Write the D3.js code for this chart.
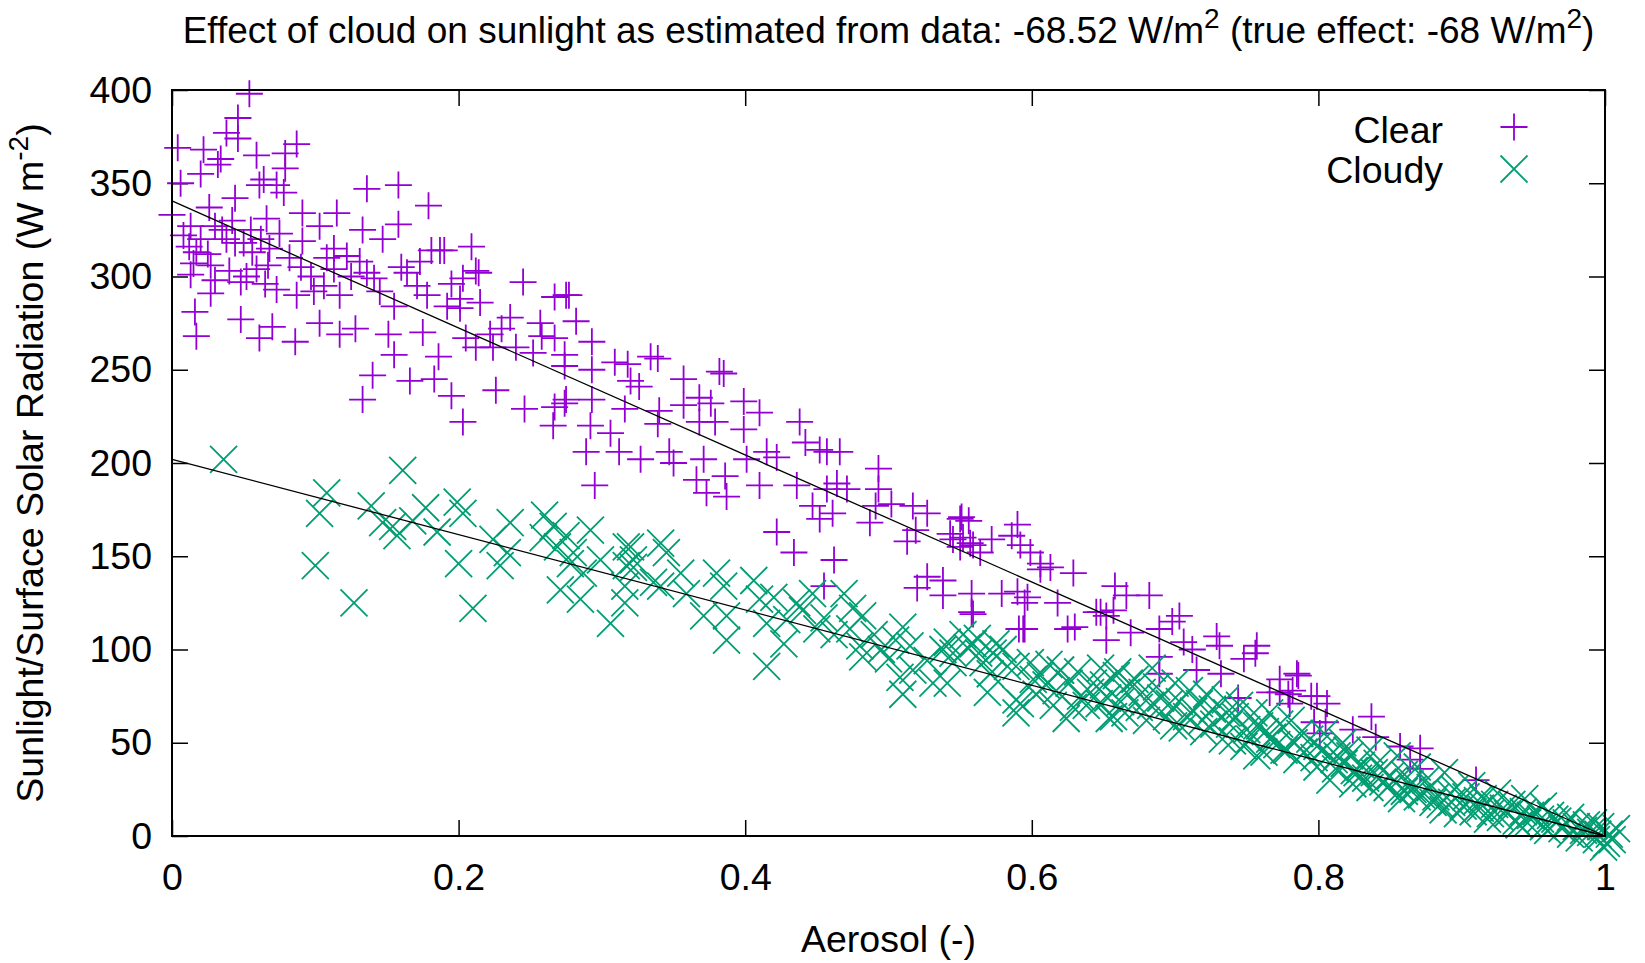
<!DOCTYPE html>
<html>
<head>
<meta charset="utf-8">
<script src="https://cdn.jsdelivr.net/npm/d3@7"></script>
<style>
  body { margin: 0; background: #fff; }
  text { font-family: "Liberation Sans", Arial, sans-serif; fill: #000; }
</style>
</head>
<body>
<svg id="chart" width="1645" height="963"></svg>
<script>
// values: [aerosol, radiation]
const xTicks = [0, 0.2, 0.4, 0.6, 0.8, 1];
const yTicks = [0, 50, 100, 150, 200, 250, 300, 350, 400];

const clear = [
  [0.054,398],[0.046,385],[0.038,377],[0.046,374],[0.004,369],[0.022,368],[0.059,365],[0.087,371],[0.079,366],[0.032,360],
  [0.034,363],[0.079,358],[0.006,350],[0.020,355],[0.061,349],[0.073,349],[0.064,352],[0.044,342],[0.026,337],[0.078,345],
  [0.091,334],[0.115,334],[0.000,333],[0.013,327],[0.030,327],[0.066,331],[0.103,327],[0.133,325],[0.136,347],[0.158,349],
  [0.179,338],[0.158,328],[0.147,320],[0.038,320],[0.044,318],[0.017,313],[0.056,313],[0.113,315],[0.091,319],[0.122,311],
  [0.131,308],[0.015,307],[0.027,306],[0.059,304],[0.067,306],[0.136,302],[0.141,299],[0.113,304],[0.013,301],[0.164,302],
  [0.173,308],[0.181,314],[0.190,314],[0.209,316],[0.203,299],[0.214,302],[0.245,297],[0.171,295],[0.048,297],[0.027,291],
  [0.073,293],[0.087,290],[0.099,292],[0.106,295],[0.117,290],[0.155,284],[0.192,284],[0.201,288],[0.201,283],[0.267,289],
  [0.275,290],[0.016,281],[0.048,277],[0.070,273],[0.086,265],[0.061,267],[0.017,268],[0.103,275],[0.117,269],[0.128,272],
  [0.151,269],[0.155,258],[0.186,257],[0.205,267],[0.222,269],[0.236,278],[0.257,275],[0.267,267],[0.140,247],[0.133,234],
  [0.166,244],[0.183,245],[0.195,236],[0.226,239],[0.246,229],[0.267,230],[0.275,234],[0.203,222],[0.224,262],[0.252,259],
  [0.266,220],[0.212,303],[0.187,314],
  [0.008,322],[0.012,316],[0.020,320],[0.025,312],[0.035,325],[0.042,330],[0.050,318],[0.055,325],[0.062,320],[0.068,315],
  [0.075,323],[0.082,310],[0.090,305],[0.097,300],[0.065,296],[0.052,300],[0.040,303],[0.030,298],[0.108,310],[0.125,300],
  [0.145,292],[0.160,305],[0.178,290],[0.195,296],[0.215,286],[0.230,272],[0.240,262],[0.258,268],[0.212,262],[0.175,270],
  [0.277,290],[0.282,276],[0.293,265],[0.274,258],[0.274,252],[0.293,250],[0.309,254],[0.318,253],[0.334,257],[0.339,256],
  [0.320,244],[0.326,241],[0.274,232],[0.293,234],[0.292,220],[0.306,216],[0.316,229],[0.289,206],[0.312,206],[0.327,202],
  [0.295,188],[0.340,228],[0.339,221],[0.357,245],[0.357,231],[0.368,235],[0.376,232],[0.382,249],[0.385,248],[0.379,222],
  [0.368,222],[0.347,206],[0.350,200],[0.371,202],[0.366,191],[0.373,184],[0.387,182],[0.386,193],[0.399,233],[0.410,227],
  [0.399,218],[0.401,202],[0.410,188],[0.415,206],[0.422,203],[0.438,222],[0.442,211],[0.452,207],[0.457,206],[0.466,206],
  [0.436,188],[0.447,177],[0.457,186],[0.464,189],[0.471,186],[0.461,173],[0.493,197],[0.493,186],[0.491,177],[0.502,178],
  [0.517,177],[0.527,173],[0.519,164],[0.487,168],[0.422,163],[0.434,152],[0.462,148],[0.452,170],[0.550,170],[0.552,160],
  [0.543,162],[0.557,157],[0.513,158],[0.527,139],
  [0.551,171],[0.556,169],[0.545,159],[0.550,155],[0.559,156],[0.564,152],[0.572,159],[0.590,167],[0.586,161],[0.592,156],
  [0.599,152],[0.606,146],[0.606,143],[0.613,144],[0.629,141],[0.538,137],[0.558,130],[0.579,130],[0.590,131],[0.595,125],
  [0.595,111],[0.591,111],[0.559,119],[0.618,125],[0.625,111],[0.658,134],[0.666,129],[0.682,129],[0.645,120],[0.652,118],
  [0.657,121],[0.669,109],[0.689,111],[0.698,115],[0.703,118],[0.689,96],[0.689,87],[0.706,104],[0.712,100],[0.715,89],
  [0.732,87],[0.731,102],[0.729,107],[0.757,102],[0.748,95],[0.744,74],[0.773,77],[0.780,71],[0.782,78],[0.786,86],
  [0.799,75],[0.806,71],[0.797,61],[0.801,55],[0.824,57],
  [0.756,98],[0.773,84],[0.785,87],[0.779,76],[0.766,77],[0.795,75],[0.805,61],[0.837,64],[0.840,53],[0.857,48],
  [0.871,47],[0.864,41],[0.871,36],[0.910,30],
  [0.455,134],[0.520,133],[0.538,129],[0.558,120],[0.594,111],[0.597,128],[0.630,112],[0.648,120],[0.652,105]
];

const cloudy = [
  [0.036,202],[0.161,196],[0.108,184],[0.103,173],[0.100,145],[0.127,125],[0.139,177],[0.147,168],[0.154,166],[0.157,161],
  [0.168,169],[0.177,176],[0.185,163],[0.199,179],[0.203,173],[0.200,146],[0.210,122],[0.236,168],[0.229,145],[0.234,152],
  [0.224,159],[0.260,172],[0.259,160],[0.269,155],[0.280,152],[0.271,132],[0.285,127],[0.278,146],[0.292,164],[0.299,148],
  [0.306,114],[0.317,155],[0.316,134],[0.322,144],[0.336,136],[0.341,157],[0.287,141],[0.266,166],[0.275,161],
  [0.320,155],[0.317,145],[0.322,148],[0.316,125],[0.345,152],[0.355,141],[0.341,134],[0.359,130],[0.380,141],[0.385,134],
  [0.371,118],[0.387,105],[0.387,118],[0.406,137],[0.410,127],[0.415,114],[0.415,91],[0.427,103],[0.429,116],[0.440,121],
  [0.447,130],[0.450,111],[0.469,130],[0.473,111],[0.482,118],[0.482,96],[0.480,102],[0.495,100],[0.510,112],[0.515,102],
  [0.508,85],[0.510,76],[0.517,89],[0.527,94],[0.531,82],[0.545,98],[0.555,101],[0.563,98],[0.571,87],[0.575,103],
  [0.589,91],[0.592,71],[0.601,84],[0.610,81],[0.620,89],[0.624,63],[0.634,75],[0.650,81],[0.654,63],[0.659,86],
  [0.420,128],[0.436,125],[0.455,117],[0.462,108],[0.475,122],[0.490,108],[0.500,95],[0.505,105],
  [0.541,104],[0.552,108],[0.562,106],[0.580,100],[0.583,91],
  [0.538,100],[0.545,93],[0.559,103],[0.566,93],[0.573,98],[0.541,82],[0.569,77],[0.589,73],[0.589,66],[0.599,93],
  [0.606,86],[0.620,89],[0.617,78],[0.629,69],[0.643,82],[0.647,71],[0.657,64],[0.666,77],[0.675,69],[0.687,80],
  [0.696,71],[0.699,59],[0.708,64],[0.717,71],[0.727,60],[0.736,66],[0.740,51],[0.750,57],[0.759,59],[0.768,53],
  [0.778,46],[0.787,55],[0.799,48],[0.811,41],[0.820,46],[0.825,35],
  [0.660,88],[0.672,84],[0.684,90],[0.700,82],[0.710,78],[0.722,76],[0.735,73],[0.745,70],[0.755,66],
  [0.665,66],[0.680,62],[0.705,58],[0.720,56],[0.733,52],[0.748,48],[0.762,45],
  [0.757,59],[0.757,43],[0.766,52],[0.776,46],[0.785,41],[0.794,52],[0.799,37],[0.808,30],[0.813,43],[0.822,43],
  [0.827,34],[0.836,26],[0.841,39],[0.850,32],[0.855,23],[0.864,28],[0.869,21],[0.878,26],[0.885,17],[0.892,23],
  [0.901,16],[0.911,19],[0.920,12],[0.929,15],[0.938,8],[0.948,11],[0.957,5],[0.967,8],[0.976,1],[0.985,3],
  [0.994,-2],[1.003,1],[1.001,-4],[0.992,7],[0.976,10],[0.957,16],[0.944,20],[0.925,23],[0.907,27],[0.888,34],
  [0.869,37],[0.855,43],[0.836,46],[0.817,50],[0.804,55],[0.781,62],[0.766,66],
  [0.830,38],[0.845,35],[0.860,33],[0.875,30],[0.895,25],[0.915,20],[0.935,17],[0.952,13],[0.965,9],[0.980,5],
  [0.990,2],[0.997,5],[0.960,3],[0.940,6],[0.918,9],[0.897,12],[0.880,18],[0.860,24],[0.845,29],[0.828,31],
  [0.603,76],[0.612,92],[0.615,70],[0.626,82],[0.632,88],[0.638,70],[0.641,77],[0.648,90],[0.653,74],[0.662,72],
  [0.668,82],[0.677,77],[0.683,70],[0.690,74],[0.694,64],[0.703,72],[0.713,67],[0.719,62],[0.726,68],[0.738,60],
  [0.742,64],[0.752,52],[0.763,56],[0.771,49],[0.773,60],[0.783,50],[0.790,45],[0.797,42],[0.803,46],[0.812,36],
  [0.818,39],[0.824,28],[0.833,31],[0.839,34],[0.848,26],[0.853,30],[0.858,20],[0.866,25],[0.872,22],[0.882,21],
  [0.887,14],[0.893,18],[0.903,21],[0.908,13],[0.913,15],[0.923,17],[0.927,10],[0.932,12],[0.943,13],[0.946,7],
  [0.955,9],[0.962,11],[0.970,4],[0.973,7],[0.982,-1],[0.987,6],[0.995,1],[1.005,-2],[1.008,4],[0.999,-6]
];

// fitted lines
const fitX = [0, 1];
const clearFit = [340.5, 0];
const cloudyFit = [202, 0];

const svg = d3.select("#chart");
const margin = { left: 172, right: 40, top: 90, bottom: 127 };
const width = 1645 - margin.left - margin.right;
const height = 963 - margin.top - margin.bottom;
const fontSize = 37.5;
const supSize = 28;

const x = d3.scaleLinear().domain([0, 1]).range([0, width]);
const y = d3.scaleLinear().domain([0, 400]).range([height, 0]);

const g = svg.append("g").attr("transform", "translate(" + margin.left + "," + margin.top + ")");

function styleAxis(sel) {
  sel.select(".domain").remove();
  sel.selectAll(".tick line").attr("stroke", "#000").attr("stroke-width", 1.5);
  sel.selectAll(".tick text").style("font-size", fontSize + "px").attr("fill", "#000");
}

g.append("g")
  .attr("transform", "translate(0," + height + ")")
  .call(d3.axisBottom(x).tickValues(xTicks).tickFormat(d3.format("")).tickSize(-16).tickPadding(27))
  .call(styleAxis);
g.append("g")
  .call(d3.axisLeft(y).tickValues(yTicks).tickSize(-16).tickPadding(20))
  .call(styleAxis);
g.append("g")
  .call(d3.axisTop(x).tickValues(xTicks).tickFormat("").tickSize(-16))
  .call(styleAxis);
g.append("g")
  .attr("transform", "translate(" + width + ",0)")
  .call(d3.axisRight(y).tickValues(yTicks).tickFormat("").tickSize(-16))
  .call(styleAxis);

const plusPath = "M-13.5,0H13.5M0,-13.5V13.5";
const crossPath = "M-13.5,-13.5L13.5,13.5M-13.5,13.5L13.5,-13.5";
const purple = "#9400d3";
const green = "#009e73";

g.selectAll(".clear")
  .data(clear)
  .enter()
  .append("path")
  .attr("class", "clear")
  .attr("d", plusPath)
  .attr("transform", d => "translate(" + x(d[0]) + "," + y(d[1]) + ")")
  .attr("stroke", purple)
  .attr("stroke-width", 1.8)
  .attr("fill", "none");

g.selectAll(".cloudy")
  .data(cloudy)
  .enter()
  .append("path")
  .attr("class", "cloudy")
  .attr("d", crossPath)
  .attr("transform", d => "translate(" + x(d[0]) + "," + y(d[1]) + ")")
  .attr("stroke", green)
  .attr("stroke-width", 1.8)
  .attr("fill", "none");

const line = d3.line().x(d => x(d[0])).y(d => y(d[1]));
[clearFit, cloudyFit].forEach(function (fit) {
  g.append("path")
    .datum(fitX.map((v, i) => [v, fit[i]]))
    .attr("d", line)
    .attr("fill", "none")
    .attr("stroke", "#000")
    .attr("stroke-width", 1.3);
});

// border
g.append("rect")
  .attr("width", width)
  .attr("height", height)
  .attr("fill", "none")
  .attr("stroke", "#000")
  .attr("stroke-width", 2);

// legend
const legend = [
  { label: "Clear", path: plusPath, color: purple, y: 143, my: 127 },
  { label: "Cloudy", path: crossPath, color: green, y: 183, my: 169 },
];
legend.forEach(function (l) {
  svg.append("text")
    .attr("x", 1443)
    .attr("y", l.y)
    .attr("text-anchor", "end")
    .style("font-size", fontSize + "px")
    .text(l.label);
  svg.append("path")
    .attr("d", l.path)
    .attr("transform", "translate(1514," + l.my + ")")
    .attr("stroke", l.color)
    .attr("stroke-width", 1.8)
    .attr("fill", "none");
});

// title
const title = svg.append("text")
  .attr("x", margin.left + width / 2)
  .attr("y", 43)
  .attr("text-anchor", "middle")
  .style("font-size", "37px");
title.append("tspan").text("Effect of cloud on sunlight as estimated from data: -68.52 W/m");
title.append("tspan").attr("dy", -15).style("font-size", supSize + "px").text("2");
title.append("tspan").attr("dy", 15).text(" (true effect: -68 W/m");
title.append("tspan").attr("dy", -15).style("font-size", supSize + "px").text("2");
title.append("tspan").attr("dy", 15).text(")");

// axis labels
svg.append("text")
  .attr("x", margin.left + width / 2)
  .attr("y", 952)
  .attr("text-anchor", "middle")
  .style("font-size", fontSize + "px")
  .text("Aerosol (-)");

const ylab = svg.append("text")
  .attr("transform", "translate(43," + (margin.top + height / 2) + ") rotate(-90)")
  .attr("text-anchor", "middle")
  .style("font-size", fontSize + "px");
ylab.append("tspan").text("Sunlight/Surface Solar Radiation (W m");
ylab.append("tspan").attr("dy", -15).style("font-size", supSize + "px").text("-2");
ylab.append("tspan").attr("dy", 15).text(")");
</script>
</body>
</html>
